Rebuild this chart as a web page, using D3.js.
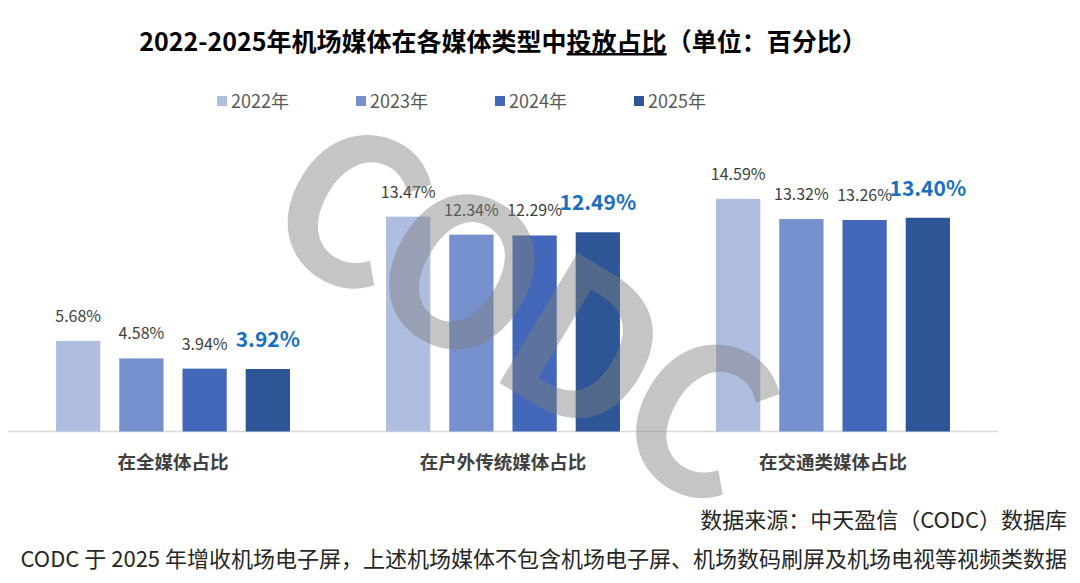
<!DOCTYPE html>
<html>
<head>
<meta charset="utf-8">
<script src="https://cdn.jsdelivr.net/npm/d3@7"></script>
<style>
  body { margin: 0; background: #fff; }
  text { font-family: "Noto Sans CJK SC", "Noto Sans", sans-serif; }
</style>
</head>
<body>
<div id="chart"></div>
<script>
const categories = ["在全媒体占比", "在户外传统媒体占比", "在交通类媒体占比"];
const years = ["2022年", "2023年", "2024年", "2025年"];
const v2022 = [5.68, 13.47, 14.59];
const v2023 = [4.58, 12.34, 13.32];
const v2024 = [3.94, 12.29, 13.26];
const v2025 = [3.92, 12.49, 13.40];
const series = [v2022, v2023, v2024, v2025];
const colors = ["#afbde0", "#7590cc", "#4368b9", "#2e5596"];

const width = 1080;
const height = 583;
const baseline = 431.5;

const data = categories.map((c, i) => ({
  cat: c,
  values: years.map((y, j) => ({ year: y, idx: j, value: series[j][i] }))
}));

const svg = d3.select("#chart").append("svg")
  .attr("width", width)
  .attr("height", height);

svg.append("rect").attr("width", width).attr("height", height).attr("fill", "#fff");

const x0 = d3.scaleBand().domain(categories).range([8, 998]).padding(0);
const x1 = d3.scaleBand().domain(years).range([0, x0.bandwidth()])
  .paddingInner(0.3).paddingOuter(0.76);
const y = d3.scaleLinear().domain([0, 15]).range([baseline, baseline - 15 * 15.95]);

// title
const title = svg.append("text")
  .attr("x", 503).attr("y", 51)
  .attr("text-anchor", "middle")
  .attr("font-size", 25).attr("font-weight", "bold").attr("fill", "#000");
title.append("tspan").text("2022-2025年机场媒体在各媒体类型中");
title.append("tspan").style("text-decoration", "underline").text("投放占比");
title.append("tspan").text("（单位：百分比）");

// legend
const legend = svg.append("g").selectAll("g").data(years).join("g")
  .attr("transform", (d, i) => `translate(${217 + i * 139}, 101)`);
legend.append("rect").attr("x", 0).attr("y", -5).attr("width", 10).attr("height", 10)
  .attr("fill", (d, i) => colors[i]);
legend.append("text").attr("x", 14).attr("y", 6.5)
  .attr("font-size", 18).attr("fill", "#595959").text(d => d);

// axis line
svg.append("line")
  .attr("x1", 8).attr("x2", 998).attr("y1", baseline).attr("y2", baseline)
  .attr("stroke", "#d9d9d9").attr("stroke-width", 1.5);

// bars
const groups = svg.append("g").selectAll("g").data(data).join("g")
  .attr("transform", d => `translate(${x0(d.cat)},0)`);

groups.selectAll("rect").data(d => d.values).join("rect")
  .attr("x", d => x1(d.year))
  .attr("y", d => y(d.value))
  .attr("width", x1.bandwidth())
  .attr("height", d => baseline - y(d.value))
  .attr("fill", d => colors[d.idx]);

groups.selectAll("text.val").data(d => d.values).join("text")
  .attr("class", "val")
  .attr("x", d => x1(d.year) + x1.bandwidth() / 2)
  .attr("y", d => y(d.value) - (d.idx === 3 ? 22 : 19))
  .attr("text-anchor", "middle")
  .attr("font-size", d => d.idx === 3 ? 21 : 16)
  .attr("font-weight", d => d.idx === 3 ? "bold" : "normal")
  .attr("fill", d => d.idx === 3 ? "#1a6fbf" : "#404040")
  .text(d => d.value.toFixed(2) + "%");

// category labels
svg.append("g").selectAll("text").data(categories).join("text")
  .attr("x", d => x0(d) + x0.bandwidth() / 2)
  .attr("y", 469)
  .attr("text-anchor", "middle")
  .attr("font-size", 18.5).attr("font-weight", "bold").attr("fill", "#404040")
  .text(d => d);

// watermark
svg.append("text")
  .attr("transform", "translate(528,296) rotate(31)")
  .attr("text-anchor", "middle").attr("dominant-baseline", "central")
  .attr("font-family", "DejaVu Sans")
  .attr("font-weight", "bold")
  .attr("font-size", 205)
  .attr("letter-spacing", -8)
  .attr("fill", "#7f7f7f").attr("opacity", 0.45)
  .text("CODC");

// footer
svg.append("text")
  .attr("x", 1067).attr("y", 528)
  .attr("text-anchor", "end").attr("font-size", 22).attr("fill", "#262626")
  .text("数据来源：中天盈信（CODC）数据库");
svg.append("text")
  .attr("x", 1067).attr("y", 567)
  .attr("text-anchor", "end").attr("font-size", 22).attr("fill", "#262626")
  .text("CODC 于 2025 年增收机场电子屏，上述机场媒体不包含机场电子屏、机场数码刷屏及机场电视等视频类数据");
</script>
</body>
</html>
